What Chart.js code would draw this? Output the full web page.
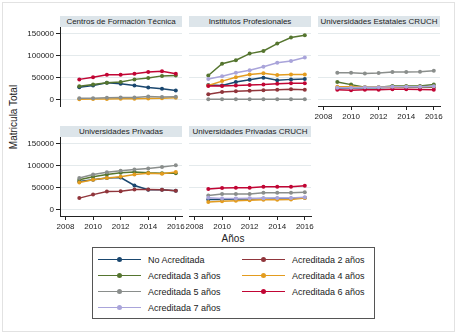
<!DOCTYPE html>
<html>
<head>
<meta charset="utf-8">
<script src="https://cdn.jsdelivr.net/npm/chart.js@4.4.0/dist/chart.umd.min.js"></script>
<style>
  body { margin: 0; background: #fff; font-family: 'Liberation Sans', Arial, sans-serif; }
  #page { position: relative; width: 457px; height: 335px; overflow: hidden; background: #fff; }
  #frame { position: absolute; left: 2px; top: 2px; width: 451px; height: 328px; border: 1px solid #e2e2e2; }
  canvas { position: absolute; }
  .strip { position: absolute; width: 122px; height: 11px; line-height: 11px; background: #dde5ea;
           color: #222; font-size: 8px; text-align: center; white-space: nowrap; }
  #ytitle { position: absolute; left: 13px; top: 117px; transform: translate(-50%, -50%) rotate(-90deg);
            font-size: 10px; color: #222; white-space: nowrap; }
  #xtitle { position: absolute; left: 233px; top: 238px; transform: translate(-50%, -50%);
            font-size: 10px; color: #222; }
  #legend { position: absolute; left: 92px; top: 247px; width: 281px; height: 70px; border: 1px solid #555; }
  .item { position: absolute; height: 12px; font-size: 9px; color: #222; white-space: nowrap; }
  .sample { position: absolute; left: 0; top: 5px; width: 43px; height: 0; }
  .dot { position: absolute; left: 19px; top: -3px; width: 5px; height: 5px; border-radius: 50%; }
  .item span { position: absolute; top: 0; line-height: 12px; }
</style>
</head>
<body>
<div id="page">
  <div id="frame"></div>
  <div id="ytitle">Matricula Total</div>
  <div id="xtitle">Años</div>
  <div id="legend"></div>
</div>
<script>
const years = [2009, 2010, 2011, 2012, 2013, 2014, 2015, 2016];
const xTicks = [2008, 2010, 2012, 2014, 2016];
const yTicks = [0, 50000, 100000, 150000];

const seriesNames = ['No Acreditada', 'Acreditada 2 años', 'Acreditada 3 años', 'Acreditada 4 años',
                     'Acreditada 5 años', 'Acreditada 6 años', 'Acreditada 7 años'];
const seriesColors = ['#1a476f', '#90353b', '#55752f', '#e39c1f', '#8a8e8c', '#c10534', '#a9a4da'];

const panelTitles = ['Centros de Formación Técnica', 'Institutos Profesionales',
                     'Universidades Estatales CRUCH', 'Universidades Privadas',
                     'Universidades Privadas CRUCH'];

// valores en el orden de seriesNames (null = sin datos)
const cft = [
  [28000, 32000, 38000, 36000, 32000, 27500, 24500, 20500],
  null,
  [30000, 34000, 38500, 40000, 46000, 49000, 54000, 55000],
  [500, 800, 1000, 1500, 1500, 2000, 3000, 4000],
  [3000, 3000, 4000, 4500, 4500, 7000, 5500, 6000],
  [46000, 51000, 56500, 56500, 59000, 63000, 64500, 59000],
  null
];
const institutos = [
  [33000, 32000, 40000, 45000, 50000, 44000, 46000, 47000],
  [12000, 17000, 19000, 20000, 21000, 22000, 23500, 22500],
  [55000, 82000, 90000, 105000, 111000, 128000, 142000, 147000],
  [32000, 42000, 51000, 57000, 60000, 56000, 57000, 57000],
  [500, 500, 500, 500, 500, 500, 500, 500],
  [31000, 31000, 32000, 33000, 34000, 36000, 37000, 37000],
  [47000, 53000, 61000, 67000, 75000, 84000, 88000, 96000]
];
const estatalesCruch = [
  [26000, 26000, 27000, 27000, 28000, 28000, 28000, 28000],
  null,
  [40000, 34000, 28000, 28000, 31000, 31000, 31000, 34000],
  [29000, 29000, 28000, 28000, 28000, 29000, 29000, 29000],
  [61000, 61000, 59500, 60500, 63000, 63000, 63500, 65500],
  [22000, 21000, 22500, 22500, 23500, 23500, 23000, 22500],
  [27000, 27000, 28000, 28000, 29000, 29000, 29000, 30000]
];
const privadas = [
  [64000, 68000, 72000, 73000, 55000, 45000, 45000, 43000],
  [26000, 34000, 41000, 41500, 45500, 45500, 45000, 43000],
  [68000, 75000, 80000, 84000, 86000, 84000, 83000, 83000],
  [62000, 68000, 72000, 75000, 80000, 83000, 82000, 86000],
  [72000, 80000, 85000, 88500, 91500, 94000, 97000, 101000],
  null,
  null
];
const privadasCruch = [
  [23000, 23000, 24000, 24000, 25000, 25000, 25000, 27000],
  null,
  null,
  [17000, 19000, 20000, 21000, 22000, 22000, 23000, 26000],
  [32000, 35500, 35500, 35500, 38000, 38000, 38000, 39500],
  [47000, 49000, 50000, 50000, 52000, 52000, 52000, 54500],
  [27000, 25000, 25000, 25500, 25500, 26000, 26000, 28000]
];

const FONT = "'Liberation Sans', Arial, sans-serif";
const colLeft = [60, 189, 318];
const rowTop = [27, 137];
const PLOT_W = 122, PLOT_H = 79, PAD = 10, YAXIS_W = 40, XAXIS_H = 22;

const page = document.getElementById('page');

function renderPanel(values, title, col, row, showY, showX) {
  const strip = document.createElement('div');
  strip.className = 'strip';
  strip.style.left = colLeft[col] + 'px';
  strip.style.top = (rowTop[row] - 11) + 'px';
  strip.textContent = title;
  page.appendChild(strip);

  const yw = showY ? YAXIS_W : 0;
  const xh = showX ? XAXIS_H : 0;
  const canvas = document.createElement('canvas');
  canvas.width = yw + PLOT_W + 2 * PAD;
  canvas.height = PLOT_H + xh + 2 * PAD;
  canvas.style.left = (colLeft[col] - yw - PAD) + 'px';
  canvas.style.top = (rowTop[row] - PAD) + 'px';
  page.appendChild(canvas);

  const datasets = [];
  values.forEach((arr, i) => {
    if (!arr) return;
    datasets.push({
      label: seriesNames[i],
      data: years.map((yr, j) => ({ x: yr, y: arr[j] })),
      borderColor: seriesColors[i],
      backgroundColor: seriesColors[i],
      pointBackgroundColor: seriesColors[i],
      order: -i
    });
  });

  new Chart(canvas, {
    type: 'line',
    data: { datasets: datasets },
    options: {
      responsive: false,
      animation: false,
      layout: { padding: PAD },
      elements: {
        point: { radius: 2, borderWidth: 0 },
        line: { borderWidth: 1.5, tension: 0 }
      },
      plugins: { legend: { display: false }, tooltip: { enabled: false } },
      scales: {
        x: {
          type: 'linear',
          min: 2007.6,
          max: 2016.45,
          display: showX,
          afterBuildTicks: function (scale) { scale.ticks = xTicks.map(v => ({ value: v })); },
          afterFit: function (scale) { scale.height = xh; },
          grid: { drawOnChartArea: false, drawTicks: true, tickLength: 4, tickColor: '#222' },
          border: { display: true, color: '#222' },
          ticks: {
            color: '#222', padding: 2, maxRotation: 0, autoSkip: false,
            font: { family: FONT, size: 8 },
            callback: function (value) { return String(value); }
          }
        },
        y: {
          min: -15000,
          max: 166000,
          afterBuildTicks: function (scale) { scale.ticks = yTicks.map(v => ({ value: v })); },
          afterFit: function (scale) { scale.width = yw; },
          grid: { color: '#e4eaec', drawTicks: showY, tickLength: 4, tickColor: '#222' },
          border: { display: showY, color: '#222' },
          ticks: {
            display: showY, color: '#222', padding: 2,
            font: { family: FONT, size: 8 },
            callback: function (value) { return String(value); }
          }
        }
      }
    }
  });
}

renderPanel(cft, panelTitles[0], 0, 0, true, false);
renderPanel(institutos, panelTitles[1], 1, 0, false, false);
renderPanel(estatalesCruch, panelTitles[2], 2, 0, false, true);
renderPanel(privadas, panelTitles[3], 0, 1, true, true);
renderPanel(privadasCruch, panelTitles[4], 1, 1, false, true);

// leyenda
const legend = document.getElementById('legend');
const rowY = [6, 22, 38, 54];
seriesNames.forEach((name, i) => {
  const item = document.createElement('div');
  item.className = 'item';
  item.style.left = (i % 2 === 0 ? 5 : 149) + 'px';
  item.style.top = rowY[Math.floor(i / 2)] + 'px';
  item.innerHTML = '<div class="sample" style="border-top:1.5px solid ' + seriesColors[i] + '">' +
    '<div class="dot" style="background:' + seriesColors[i] + '"></div></div>' +
    '<span style="left:50px">' + name + '</span>';
  legend.appendChild(item);
});
</script>
</body>
</html>
